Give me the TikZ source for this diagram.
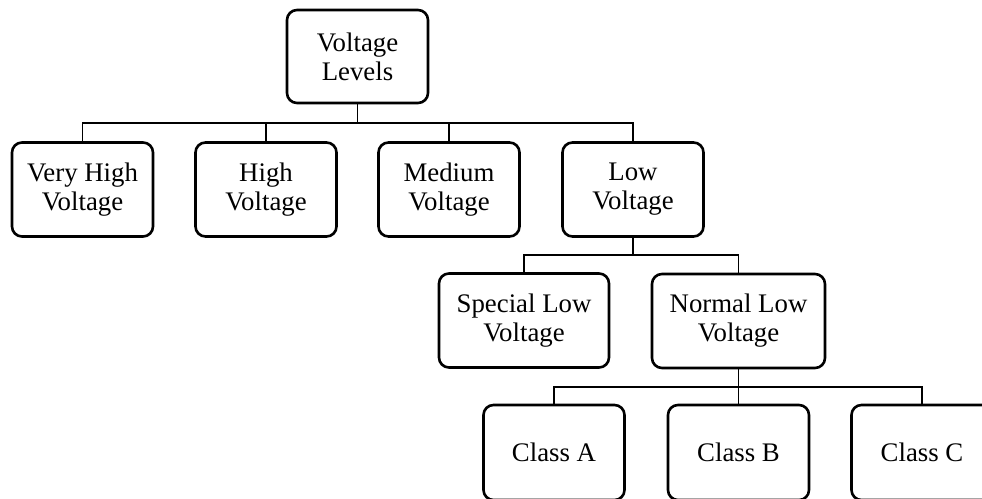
\documentclass[tikz,border=0pt]{standalone}
\usepackage{fontspec}
\setmainfont{Liberation Serif}
\begin{document}
\begin{tikzpicture}[x=1pt,y=-1pt,
  box/.style={draw, line width=2.6pt, rounded corners=10pt, align=center,
    minimum width=141pt, minimum height=94pt, inner sep=0pt,
    font=\fontsize{26.8}{29}\selectfont},
  link/.style={line width=1.2pt}]
\useasboundingbox (0,0) rectangle (982,498);
\clip (0,0) rectangle (982,498);

% boxes
\node[box, minimum height=93pt] (top) at (357.5,56.5) {Voltage\\Levels};
\node[box] (vhv) at (82.5,189.5) {Very High\\Voltage};
\node[box] (hv)  at (266,189.5)  {High\\Voltage};
\node[box] (mv)  at (449,189.5)  {Medium\\Voltage};
\node[box] (lv)  at (633,189.5)  {Low\\Voltage};
\node[box, minimum width=170pt] (slv) at (524,320.5) {Special Low\\Voltage};
\node[box, minimum width=173pt] (nlv) at (738.5,321) {Normal Low\\Voltage};
\node[box, minimum height=95pt] (ca) at (554,452.5)   {Class A};
\node[box, minimum height=95pt] (cb) at (738.5,452.5) {Class B};
\node[box, minimum height=95pt] (cc) at (922,452.5)   {Class C};

% junction points of the tree connectors
\coordinate (j1) at (357.5,123);
\coordinate (j2) at (633,255);
\coordinate (j3) at (738.5,387);

\draw[link] (top.south) -- (j1);
\draw[link] (vhv.north) |- (j1);
\draw[link] (hv.north) |- (j1);
\draw[link] (mv.north) |- (j1);
\draw[link] (lv.north) |- (j1);

\draw[link] (lv.south) -- (j2);
\draw[link] (slv.north) |- (j2);
\draw[link] (nlv.north) |- (j2);

\draw[link] (nlv.south) -- (j3);
\draw[link] (ca.north) |- (j3);
\draw[link] (cb.north) -- (j3);
\draw[link] (cc.north) |- (j3);
\end{tikzpicture}
\end{document}
